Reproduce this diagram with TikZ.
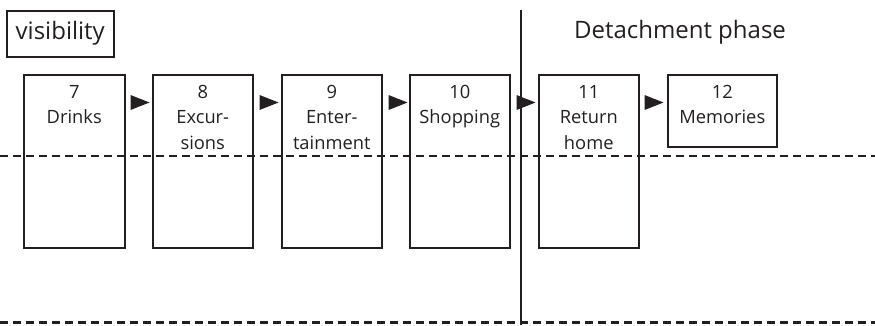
\documentclass[tikz,border=0pt]{standalone}
\usepackage{fontspec}
\setmainfont{Open Sans}
\usetikzlibrary{calc}
\definecolor{ink}{RGB}{35,31,32}
\begin{document}
\begin{tikzpicture}[x=1pt,y=-1pt,
  box/.style={draw=ink, line width=1.5pt, minimum width=#1, minimum height=173pt, anchor=north west, inner sep=0pt},
  box/.default=100pt,
  lbl/.style={anchor=north, inner sep=0pt, align=center, font=\fontsize{18.3}{25.5}\selectfont, text=ink},
  big/.style={font=\fontsize{24}{28}\selectfont, text=ink},
  dashline/.style={draw=ink, line width=2.6pt, dash pattern=on 8pt off 5pt},
  divider/.style={draw=ink, line width=1.3pt},
  tri/.style={fill=ink}
]
\useasboundingbox (0,0) rectangle (875,325);

% visibility label
\node[draw=ink, line width=1.5pt, minimum width=107pt, minimum height=46pt, anchor=north west, inner sep=0pt, big] (vis) at (6,10) {visibility};
\node[big, anchor=base] (det) at (680,38) {Detachment phase};

% boxes
\node[box=101pt] (b7) at (23,74) {};
\node[box] (b8) at (152,74) {};
\node[box] (b9) at (281,74) {};
\node[box] (b10) at (409,74) {};
\node[box] (b11) at (538,74) {};
\node[draw=ink, line width=1.5pt, minimum width=109pt, minimum height=72pt, anchor=north west, inner sep=0pt] (b12) at (667,74) {};

% labels
\node[lbl] (t7) at ($(b7.north)+(0,11)$) {7\\Drinks};
\node[lbl] (t8) at ($(b8.north)+(0,11)$) {8\\Excur-\\sions};
\node[lbl] (t9) at ($(b9.north)+(0,11)$) {9\\Enter-\\tainment};
\node[lbl] (t10) at ($(b10.north)+(0,11)$) {10\\Shopping};
\node[lbl] (t11) at ($(b11.north)+(0,11)$) {11\\Return\\home};
\node[lbl] (t12) at ($(b12.north)+(0,11)$) {12\\Memories};

% dashed lines and divider
\coordinate (dl1) at (0,156);
\coordinate (dr1) at (875,156);
\coordinate (dl2) at (0,322.5);
\coordinate (dr2) at (875,322.5);
\coordinate (vt) at (521,10);
\coordinate (vb) at (521,325);
\draw[dashline] (dl1) -- (dr1);
\draw[dashline] (dl2) -- (dr2);
\draw[divider] (vt) -- (vb);

% arrow triangles
\foreach \a/\s in {b7/5, b8/6, b9/6, b10/6, b11/5}{
  \fill[tri] ($(\a.north east)+(\s,21)$) -- ++(19,7.5) -- ++(-19,7.5) -- cycle;
}
\end{tikzpicture}
\end{document}
